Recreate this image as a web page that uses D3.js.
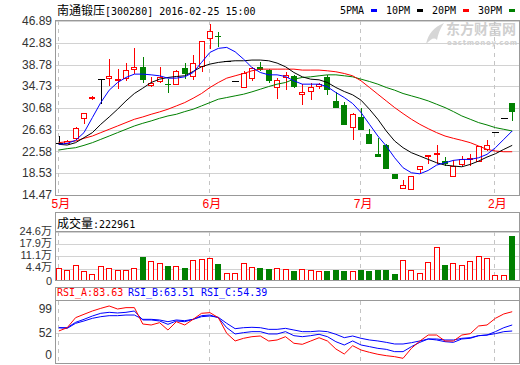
<!DOCTYPE html>
<html>
<head>
<meta charset="utf-8">
<script src="https://cdn.jsdelivr.net/npm/d3@7"></script>
<style>
body { margin: 0; background: #fff; }
svg { display: block; }
</style>
</head>
<body>
<script>
// stock info
const stockName = "南通锻压";
const stockCode = "300280";
const stamp = "2016-02-25 15:00";

// candles (price, one per day)
const openP  = [24.09,24.10,25.09,28.89,32.55,36.05,36.24,36.00,36.24,37.92,38.36,35.00,35.62,35.06,35.12,38.05,36.68,38.55,43.72,44.09,39.48,35.62,34.68,36.24,38.36,37.74,34.68,36.37,36.68,33.25,33.87,34.81,36.37,32.00,31.26,27.15,29.08,25.90,22.16,23.72,18.30,15.81,15.50,19.36,21.90,22.10,20.79,17.99,20.17,21.20,20.79,23.10,26.27,28.89,31.69];
const closeP = [24.09,24.50,27.02,29.70,32.65,36.05,36.55,36.10,37.80,38.36,35.87,35.43,36.49,34.93,37.49,36.99,39.11,43.10,44.96,43.97,39.48,35.62,37.11,38.11,37.74,35.62,35.93,36.80,34.50,33.75,34.68,35.24,34.00,30.63,27.52,29.51,26.52,23.91,21.54,19.36,17.36,16.31,17.99,19.86,21.98,22.22,20.17,19.86,21.10,21.29,23.60,23.72,26.27,28.89,30.01];
const highP  = [25.50,24.80,27.21,29.70,32.94,36.05,39.79,37.92,38.98,41.79,40.23,36.37,38.23,36.05,37.80,38.98,40.60,43.10,46.33,44.78,39.48,35.62,37.61,38.36,39.17,37.92,36.24,37.30,36.86,35.12,35.43,35.43,36.86,33.75,31.88,29.82,30.76,26.83,25.03,24.03,18.30,17.18,17.99,19.86,22.00,23.72,21.54,20.92,21.73,22.16,23.60,24.65,26.27,28.89,31.69];
const lowP   = [23.70,24.00,25.00,27.77,32.13,31.50,34.80,34.18,35.62,36.99,35.43,34.50,35.43,33.44,34.93,36.05,35.93,37.30,41.66,42.10,39.48,35.62,34.50,35.62,37.49,35.43,32.32,34.00,34.37,31.19,32.13,34.18,33.06,30.63,27.52,24.65,26.52,23.91,21.54,19.23,17.36,15.81,15.31,18.61,20.17,20.17,19.86,17.99,19.86,19.86,20.67,22.66,26.27,28.89,28.27];

// volume, in 万
const volume = [4.9,3.6,6.2,3.1,1.4,5.8,4.7,3.6,3.6,4.7,10.8,8.6,7.3,5.8,5.8,4.9,9.1,9.7,10.2,6.9,1.8,1.8,7.3,5.4,4.9,4.2,4.9,4.2,3.1,4.2,3.6,3.1,3.1,3.6,3.1,3.1,3.6,3.1,3.6,3.6,1.4,9.1,3.6,1.8,8.0,16.3,6.4,7.3,6.4,8.6,11.3,10.2,0.9,0.9,22.3];
const lastVolume = 222961;

// moving averages
const ma5  = [23.91,24.09,24.65,26.09,28.89,31.69,34.00,35.43,36.37,36.99,36.99,36.86,36.68,36.24,36.24,36.49,37.30,39.17,41.04,41.79,41.97,41.16,39.79,38.23,37.30,36.86,36.86,36.55,35.74,35.12,35.12,35.12,34.62,33.56,32.63,31.51,29.82,27.64,25.46,23.60,21.41,19.55,18.61,18.42,19.05,20.04,20.48,20.92,21.10,21.10,21.41,22.04,23.28,24.84,26.40];
const ma10 = [23.91,23.78,24.22,25.15,26.09,27.64,29.01,30.45,32.00,33.38,34.37,35.43,36.05,36.37,36.55,36.68,37.49,38.36,38.86,39.17,39.36,39.48,39.48,39.61,39.61,39.48,39.05,38.36,37.30,36.49,36.05,35.93,35.43,34.50,33.75,33.13,32.13,30.45,28.58,26.40,24.53,23.28,22.35,21.73,21.10,20.48,20.04,19.86,19.73,20.17,20.79,21.54,22.16,22.97,23.72];
const ma20 = [24.22,24.40,24.53,25.03,25.46,26.09,26.71,27.33,27.96,28.58,29.01,29.51,29.95,30.45,31.07,31.69,32.50,33.38,34.50,35.43,36.24,36.68,37.11,37.61,37.92,37.92,37.92,37.92,37.92,37.74,37.74,37.74,37.61,37.43,37.11,36.68,35.74,34.50,33.25,32.00,30.76,29.64,28.58,27.64,26.83,26.09,25.46,25.03,24.65,24.22,23.60,22.97,22.66,22.53,22.53];
const ma30 = [22.85,23.10,23.28,23.72,24.22,24.84,25.46,26.09,26.71,27.33,27.83,28.27,28.77,29.20,29.51,30.01,30.45,31.07,31.69,32.32,32.63,32.94,33.25,33.69,34.18,34.68,35.12,35.43,36.05,36.37,36.49,36.68,36.86,36.86,36.68,36.49,36.05,35.62,35.12,34.50,34.00,33.38,32.94,32.50,32.00,31.38,30.76,30.01,29.20,28.58,27.96,27.52,27.02,26.71,26.40];

// RSI
const rsiA = [54.4,59.4,74.6,79.7,84.7,88.7,92.3,87.7,89.8,89.8,65.0,63.5,67.0,55.9,68.5,63.5,72.1,81.2,82.2,74.6,50.9,39.3,43.3,45.8,46.8,39.2,40.8,45.8,35.8,34.2,39.2,44.2,39.2,27.1,19.5,32.1,25.6,22.1,19.1,17.0,15.5,13.0,28.2,39.2,48.3,48.3,39.2,39.2,48.3,50.3,62.0,63.5,73.6,80.2,83.63];
const rsiB = [59.4,59.4,67.5,72.1,77.1,81.2,82.7,81.7,82.7,84.7,71.1,71.1,69.6,64.5,69.6,68.5,72.1,77.6,78.6,74.6,59.4,49.9,51.9,53.4,53.4,49.9,49.9,53.4,47.3,45.8,47.3,49.4,45.8,38.2,33.2,39.3,33.2,30.7,28.1,26.6,23.1,23.1,30.7,37.2,42.3,40.8,38.2,37.2,42.3,43.3,47.3,48.3,53.4,59.4,63.51];
const rsiC = [59.4,58.4,66.0,69.6,73.6,76.1,77.6,77.6,78.6,78.6,72.1,72.1,71.1,68.5,71.1,70.0,72.1,76.1,77.1,75.1,66.0,57.9,59.4,60.0,59.4,56.9,56.9,58.4,55.9,53.4,53.4,54.4,53.4,49.4,44.3,46.8,43.3,40.8,39.3,37.2,34.7,34.7,36.7,39.3,42.3,42.3,40.8,40.8,43.3,44.3,47.3,48.3,50.4,53.4,54.39];

// axis ticks
const priceTicks = [14.47,18.53,22.58,26.63,30.68,34.73,38.78,42.83,46.89];
const volTicks = [4.4,11.1,17.9,24.6];
const rsiTicks = [0,52,99];
const monthLabels = ["5月","6月","7月","2月"];
const monthIdx = [0,18,36,52];
const maNames = ["5PMA","10PM","20PM","30PM"];

const red = "#ff0000", green = "#008000", blue = "#0000ff", black = "#000000";
const gridC = "#d2d2d2", frameC = "#999999", dashC = "#c4c4c4", textC = "#333333";
const numFont = "12px 'Liberation Sans', Arial, 'Noto Sans CJK SC', sans-serif";
const volFont = "11px 'Liberation Sans', Arial, 'Noto Sans CJK SC', sans-serif";
const monoFont = "10px 'DejaVu Sans Mono', monospace";
const cjkFont = "12px 'Noto Sans CJK SC', sans-serif";

const L = 55, R = 519;
const n = closeP.length;

const svg = d3.select("body").append("svg")
    .attr("width", 520)
    .attr("height", 365);

const x = d3.scaleLinear().domain([0, n - 1]).range([58.8, 512.2]);
const yP = d3.scaleLinear().domain([14.47, 46.89]).range([195, 21]);
const yV = d3.scaleLinear().domain([-2.3, 24.6]).range([280.7, 232]);
const yR = d3.scaleLinear().domain([0, 100]).range([366.9, 300.9]);

const px = v => Math.round(v) + 0.5;

// watermark
svg.append("path")
    .attr("d", "M426,44 C428,34 434,27 444,23 C440,29 438,34 437,40 C434,37 431,39 426,44 Z")
    .attr("fill", "#d6d6d6");
svg.append("text").attr("x", 446).attr("y", 34)
    .style("font", "bold 14px 'Noto Sans CJK SC', sans-serif")
    .attr("fill", "#cfcfcf").text("东方财富网");
svg.append("text").attr("x", 447).attr("y", 45)
    .style("font", "bold 7px 'DejaVu Sans', sans-serif")
    .attr("fill", "#cfcfcf").attr("textLength", 70).text("eastmoney.com");

// header
const head = svg.append("text").attr("x", 57).attr("y", 15).attr("fill", black);
head.append("tspan").style("font", cjkFont).text(stockName);
head.append("tspan").style("font", monoFont).text("[" + stockCode + "] " + stamp);

// legend
const maColors = [blue, black, red, green];
const leg = svg.append("g").selectAll("g").data(maNames).join("g")
    .attr("transform", (d, i) => "translate(" + (340 + i * 46) + ",0)");
leg.append("text").attr("y", 14).style("font", monoFont).attr("fill", black).text(d => d);
leg.append("rect").attr("x", 31).attr("y", 9).attr("width", 6).attr("height", 3)
    .attr("fill", (d, i) => maColors[i]);

// ---------- main panel ----------
const main = svg.append("g");
main.selectAll("line.grid").data(priceTicks).join("line")
    .attr("x1", L).attr("x2", R)
    .attr("y1", d => px(yP(d))).attr("y2", d => px(yP(d)))
    .attr("stroke", gridC);

function monthLines(g, y0, y1) {
  g.selectAll("line.month").data(monthIdx).join("line")
      .attr("x1", d => Math.round(x(d)) - 0.5).attr("x2", d => Math.round(x(d)) - 0.5)
      .attr("y1", y0).attr("y2", y1)
      .attr("stroke", dashC).attr("stroke-dasharray", "4,4");
}
monthLines(main, 21, 195);

main.selectAll("text.ytick").data(priceTicks).join("text")
    .attr("x", 52).attr("y", d => yP(d)).attr("dy", "0.35em")
    .attr("text-anchor", "end").style("font", numFont).attr("fill", textC)
    .text(d => d.toFixed(2));

main.selectAll("text.month").data(monthLabels).join("text")
    .attr("x", (d, i) => x(monthIdx[i]) + 2).attr("y", 208)
    .attr("text-anchor", "middle").style("font", numFont).attr("fill", red)
    .text(d => d);

// candles
const days = d3.range(n).map(i => ({
  i: i, o: openP[i], c: closeP[i], h: highP[i], l: lowP[i], v: volume[i]
}));
const candle = main.selectAll("g.candle").data(days).join("g");
candle.each(function(d) {
  const g = d3.select(this);
  const cx = Math.round(x(d.i));
  const top = Math.round(yP(Math.max(d.o, d.c)));
  const bot = Math.round(yP(Math.min(d.o, d.c)));
  const hi = Math.round(yP(d.h)), lo = Math.round(yP(d.l));
  if (d.c > d.o) {
    if (hi < top) g.append("line").attr("x1", cx + 0.5).attr("x2", cx + 0.5).attr("y1", hi).attr("y2", top).attr("stroke", red);
    if (lo > bot) g.append("line").attr("x1", cx + 0.5).attr("x2", cx + 0.5).attr("y1", bot).attr("y2", lo).attr("stroke", red);
    g.append("rect").attr("x", cx - 2.5).attr("y", top + 0.5)
        .attr("width", 5).attr("height", Math.max(1, bot - top))
        .attr("fill", "#fff").attr("stroke", red);
  } else if (d.c < d.o) {
    g.append("line").attr("x1", cx + 0.5).attr("x2", cx + 0.5).attr("y1", hi).attr("y2", lo).attr("stroke", green);
    g.append("rect").attr("x", cx - 3).attr("y", top)
        .attr("width", 6).attr("height", Math.max(1, bot - top))
        .attr("fill", green);
  } else {
    if (lo > hi) g.append("line").attr("x1", cx + 0.5).attr("x2", cx + 0.5).attr("y1", hi).attr("y2", lo).attr("stroke", black);
    g.append("line").attr("x1", cx - 3).attr("x2", cx + 4).attr("y1", top + 0.5).attr("y2", top + 0.5).attr("stroke", black);
  }
});

// moving averages
const maLine = d3.line().x((d, i) => x(i)).y(d => yP(d));
[ma30, ma20, ma10, ma5].forEach((s, k) => {
  main.append("path").datum(s).attr("d", maLine)
      .attr("fill", "none").attr("stroke", [green, red, black, blue][k]).attr("stroke-width", 1);
});

main.append("rect").attr("x", L + 0.5).attr("y", 20.5).attr("width", R - L).attr("height", 175)
    .attr("fill", "none").attr("stroke", frameC);

// ---------- volume panel ----------
const vol = svg.append("g");
vol.selectAll("line.grid").data(volTicks).join("line")
    .attr("x1", L).attr("x2", R)
    .attr("y1", d => px(yV(d))).attr("y2", d => px(yV(d)))
    .attr("stroke", gridC);
monthLines(vol, 232, 281);

vol.selectAll("rect.bar").data(days).join("rect")
    .each(function(d) {
      const b = d3.select(this);
      const cx = Math.round(x(d.i));
      const top = Math.round(yV(d.v));
      const bot = Math.round(yV.range()[0]);
      if (d.c >= d.o) {
        b.attr("x", cx - 2.5).attr("y", top + 0.5).attr("width", 5).attr("height", bot - top - 1)
         .attr("fill", "#fff").attr("stroke", red);
      } else {
        b.attr("x", cx - 3).attr("y", top).attr("width", 6).attr("height", bot - top)
         .attr("fill", green);
      }
    });

vol.selectAll("text.ytick").data(volTicks).join("text")
    .attr("x", 52).attr("y", d => yV(d) - 1).attr("dy", "0.35em")
    .attr("text-anchor", "end").style("font", volFont).attr("fill", textC)
    .text(d => d.toFixed(1) + "万");
vol.append("text").attr("x", 52).attr("y", yV.range()[0]).attr("dy", "0.35em")
    .attr("text-anchor", "end").style("font", volFont).attr("fill", textC).text("0");

const vt = vol.append("text").attr("x", 57).attr("y", 228).attr("fill", black);
vt.append("tspan").style("font", cjkFont).text("成交量");
vt.append("tspan").style("font", monoFont).text(":" + lastVolume);

vol.append("rect").attr("x", L + 0.5).attr("y", 212.5).attr("width", R - L).attr("height", 68)
    .attr("fill", "none").attr("stroke", frameC);
vol.append("line").attr("x1", L).attr("x2", R).attr("y1", 231.5).attr("y2", 231.5).attr("stroke", frameC);

// ---------- RSI panel ----------
const rsi = svg.append("g");
svg.append("clipPath").attr("id", "rsiClip").append("rect")
    .attr("x", L).attr("y", 301).attr("width", R - L).attr("height", 62);
rsi.append("line").attr("x1", L).attr("x2", R)
    .attr("y1", px(yR(52))).attr("y2", px(yR(52))).attr("stroke", gridC);
monthLines(rsi, 301, 363);

const rsiLine = d3.line().x((d, i) => x(i)).y(d => yR(d));
const rsiG = rsi.append("g").attr("clip-path", "url(#rsiClip)");
[[rsiC, blue], [rsiB, blue], [rsiA, red]].forEach(([s, col]) => {
  rsiG.append("path").datum(s).attr("d", rsiLine)
      .attr("fill", "none").attr("stroke", col).attr("stroke-width", 1);
});

rsi.selectAll("text.ytick").data(rsiTicks).join("text")
    .attr("x", 52).attr("y", d => Math.max(309, Math.min(355, yR(d)))).attr("dy", "0.35em")
    .attr("text-anchor", "end").style("font", numFont).attr("fill", textC)
    .text(d => d);

const rsiNames = ["RSI_A", "RSI_B", "RSI_C"];
const rsiLast = [rsiA[n - 1], rsiB[n - 1], rsiC[n - 1]];
const rsiX = [57, 128, 201];
rsi.selectAll("text.title").data(rsiNames).join("text")
    .attr("x", (d, i) => rsiX[i]).attr("y", 296)
    .style("font", monoFont).attr("fill", (d, i) => i === 0 ? red : blue)
    .text((d, i) => d + ":" + rsiLast[i].toFixed(2));

rsi.append("rect").attr("x", L + 0.5).attr("y", 287.5).attr("width", R - L).attr("height", 76)
    .attr("fill", "none").attr("stroke", frameC);
rsi.append("line").attr("x1", L).attr("x2", R).attr("y1", 300.5).attr("y2", 300.5).attr("stroke", frameC);
</script>
</body>
</html>
